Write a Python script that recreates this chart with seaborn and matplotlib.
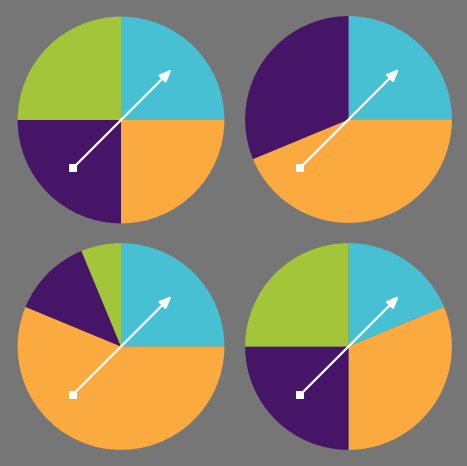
import numpy as np
import matplotlib
matplotlib.use("Agg")
import matplotlib.pyplot as plt
import seaborn as sns

# slice sizes in sixteenths, clockwise from 12 o'clock: cyan, orange, purple, green
spinner_tl = [4, 4, 4, 4]
spinner_tr = [4, 7, 5, 0]
spinner_bl = [4, 9, 2, 1]
spinner_br = [3, 5, 4, 4]
spinners = [spinner_tl, spinner_tr, spinner_bl, spinner_br]

slice_colors = sns.color_palette(["#48c0d4", "#fbaa40", "#461568", "#a3c53a"])
bg = "#767676"

sns.set_theme(style="white")

W, H = 467, 466
fig = plt.figure(figsize=(W / 100, H / 100), dpi=100, facecolor=bg)

# pie centres in pixels (from top-left) and radius
centres = [(121, 120), (348.5, 119.5), (121, 346.5), (348.5, 346.5)]
r = 103.4
lim = 1.1
half = r * lim

for (cx, cy), sizes in zip(centres, spinners):
    ax = fig.add_axes([(cx - half) / W, (H - cy - half) / H, 2 * half / W, 2 * half / H])
    ax.set_facecolor(bg)
    vals = [v for v in sizes]
    cols = [c for v, c in zip(sizes, slice_colors)]
    keep = [i for i, v in enumerate(vals) if v > 0]
    ax.pie([vals[i] for i in keep], colors=[cols[i] for i in keep],
           startangle=90, counterclock=False, radius=1,
           wedgeprops=dict(linewidth=0))
    ax.set_xlim(-lim, lim)
    ax.set_ylim(-lim, lim)
    ax.set_aspect("equal")
    ax.axis("off")
    # spinner needle
    ax.annotate("", xy=(0.49, 0.49), xytext=(-0.465, -0.465),
                arrowprops=dict(arrowstyle="-|>,head_length=0.6,head_width=0.25",
                                color="white", lw=1.6, shrinkA=0, shrinkB=0))
    ax.plot([-0.465], [-0.465], marker="s", markersize=6, color="white",
            markeredgewidth=0)

fig.savefig("out.png", dpi=100, facecolor=bg)
